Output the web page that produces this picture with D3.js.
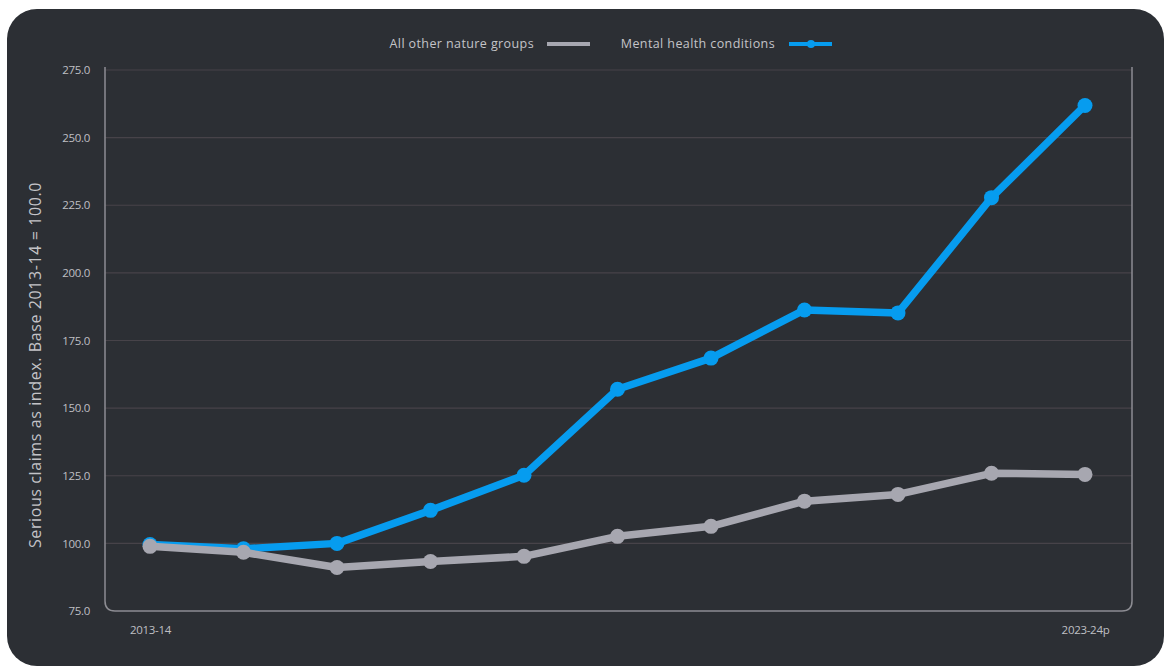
<!DOCTYPE html>
<html>
<head>
<meta charset="utf-8">
<script src="https://cdn.jsdelivr.net/npm/d3@7"></script>
<style>
  html, body { margin: 0; padding: 0; background: #ffffff; }
  svg { display: block; font-family: "Open Sans", "DejaVu Sans", sans-serif; }
</style>
</head>
<body>
<svg id="chart" width="1164" height="666"></svg>
<script>
// data
const years = ["2013-14", "2014-15", "2015-16", "2016-17", "2017-18", "2018-19",
  "2019-20", "2020-21", "2021-22", "2022-23", "2023-24p"];
const mentalHealth = [99.6, 98.0, 100.0, 112.2, 125.2, 157.0, 168.5, 186.3, 185.2, 227.8, 261.9];
const otherGroups = [98.9, 96.7, 91.1, 93.3, 95.2, 102.6, 106.3, 115.6, 118.1, 125.9, 125.5];
const yTicks = [75, 100, 125, 150, 175, 200, 225, 250, 275];
const xTickLabels = ["2013-14", "2023-24p"];

const series = [
  { name: "All other nature groups", color: "#a7a7b0", values: otherGroups },
  { name: "Mental health conditions", color: "#069cef", values: mentalHealth }
];

const svg = d3.select("#chart");
const plot = { left: 105, right: 1132, top: 70, bottom: 611 };

// dark panel
svg.append("rect")
  .attr("x", 7).attr("y", 9)
  .attr("width", 1157).attr("height", 657)
  .attr("rx", 30).attr("ry", 30)
  .attr("fill", "#2c2f34");

const x = d3.scalePoint()
  .domain(years)
  .range([150, 1085]);

const y = d3.scaleLinear()
  .domain([75, 275])
  .range([plot.bottom, plot.top]);

// gridlines
svg.append("g")
  .attr("class", "grid")
  .selectAll("line")
  .data(yTicks.filter((d) => d > 75))
  .join("line")
  .attr("x1", plot.left)
  .attr("x2", plot.right)
  .attr("y1", (d) => y(d))
  .attr("y2", (d) => y(d))
  .attr("stroke", "#474349")
  .attr("stroke-width", 1.2);

// frame: left, bottom (rounded corners) and right
const r = 10;
svg.append("path")
  .attr("d", `M${plot.left},${plot.top - 3} V${plot.bottom - r} Q${plot.left},${plot.bottom} ${plot.left + r},${plot.bottom}` +
    ` H${plot.right - r} Q${plot.right},${plot.bottom} ${plot.right},${plot.bottom - r} V${plot.top - 3}`)
  .attr("fill", "none")
  .attr("stroke", "#8c8c92")
  .attr("stroke-width", 1.5);

// y axis labels
const yAxis = svg.append("g")
  .attr("transform", `translate(${plot.left - 12},0)`)
  .call(d3.axisLeft(y).tickValues(yTicks).tickFormat(d3.format(".1f")).tickSize(0));
yAxis.select(".domain").remove();
yAxis.selectAll("text")
  .attr("fill", "#bfbfc3")
  .attr("font-size", "11.5px")
  .attr("font-family", "Open Sans, sans-serif")
  .attr("letter-spacing", "-0.3px");

// x axis labels (first and last only)
const xAxis = svg.append("g")
  .attr("transform", `translate(0,${plot.bottom + 12})`)
  .call(d3.axisBottom(x).tickValues(xTickLabels).tickSize(0));
xAxis.select(".domain").remove();
xAxis.selectAll("text")
  .attr("fill", "#bfbfc3")
  .attr("font-size", "11.5px")
  .attr("font-family", "Open Sans, sans-serif")
  .attr("letter-spacing", "-0.3px");

// y axis title
svg.append("text")
  .attr("transform", `translate(41,365) rotate(-90)`)
  .attr("text-anchor", "middle")
  .attr("fill", "#c4c4c8")
  .attr("font-size", "16px")
  .attr("letter-spacing", "0.6px")
  .text("Serious claims as index. Base 2013-14 = 100.0");

// lines: blue first so the grey series sits on top
const line = d3.line()
  .x((d, i) => x(years[i]))
  .y((d) => y(d));

const seriesGroups = svg.append("g")
  .selectAll("g.series")
  .data(series.slice().reverse())
  .join("g")
  .attr("class", "series");

seriesGroups.append("path")
  .attr("d", (d) => line(d.values))
  .attr("fill", "none")
  .attr("stroke", (d) => d.color)
  .attr("stroke-width", 7.5)
  .attr("stroke-linejoin", "round")
  .attr("stroke-linecap", "round");

seriesGroups.selectAll("circle")
  .data((d) => d.values.map((v, i) => ({ v, i, color: d.color })))
  .join("circle")
  .attr("cx", (d) => x(years[d.i]))
  .attr("cy", (d) => y(d.v))
  .attr("r", 7.5)
  .attr("fill", (d) => d.color);

// legend
const legend = svg.append("g").attr("class", "legend");
const legendItems = [
  { name: series[0].name, color: series[0].color, textX: 534, lineX: 547, dot: false },
  { name: series[1].name, color: series[1].color, textX: 775, lineX: 789, dot: true }
];
legendItems.forEach((d) => {
  legend.append("text")
    .attr("x", d.textX)
    .attr("y", 48)
    .attr("text-anchor", "end")
    .attr("fill", "#c4c4c8")
    .attr("font-size", "12.5px")
    .attr("letter-spacing", "0.4px")
    .text(d.name);
  legend.append("line")
    .attr("x1", d.lineX)
    .attr("x2", d.lineX + 43)
    .attr("y1", 44).attr("y2", 44)
    .attr("stroke", d.color)
    .attr("stroke-width", 4);
  if (d.dot) {
    legend.append("circle")
      .attr("cx", d.lineX + 22)
      .attr("cy", 44)
      .attr("r", 4)
      .attr("fill", d.color);
  }
});
</script>
</body>
</html>
